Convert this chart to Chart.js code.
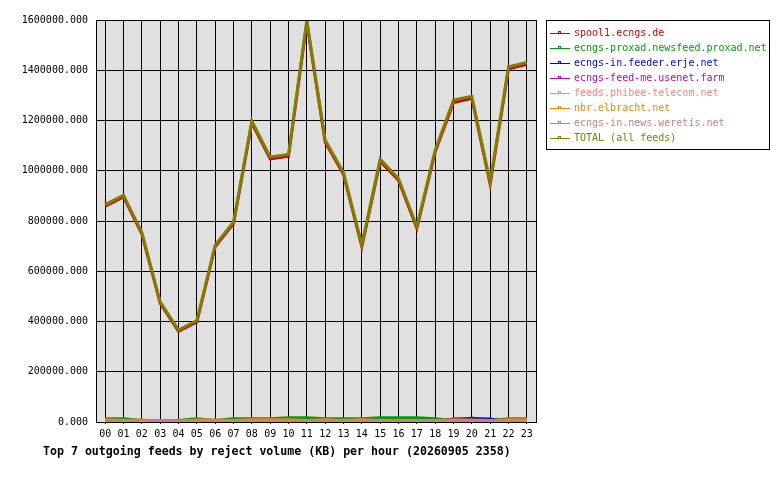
<!DOCTYPE html>
<html>
<head>
<meta charset="utf-8">
<script src="https://cdn.jsdelivr.net/npm/chart.js@4/dist/chart.umd.min.js"></script>
<style>
  body { margin: 0; background: #fff; }
  #wrap { width: 780px; height: 480px; }
</style>
</head>
<body>
<div id="wrap"><canvas id="feedChart" width="780" height="480"></canvas></div>
<script>
// hours of the day
const hours = ["00","01","02","03","04","05","06","07","08","09","10","11",
               "12","13","14","15","16","17","18","19","20","21","22","23"];

// reject volume (KB) per hour
const spool1 = [859000, 896000, 749000, 473000, 361000, 398000, 698000, 790000, 1191000, 1047000, 1058000, 1590000,
                1114000, 986000, 698000, 1038000, 962000, 771000, 1075000, 1272000, 1288000, 947000, 1406000, 1424000];
const proxad = [13000, 13000, 6000, 6000, 6000, 13000, 6000, 13000, 13000, 13000, 17000, 17000,
                13000, 13000, 13000, 17000, 17000, 17000, 13000, 6000, 16000, 6000, 13000, 13000];
const erje = [1000, 1000, 1000, 1000, 1000, 1000, 1000, 1000, 1000, 1000, 1000, 1000,
              1000, 1000, 1000, 1000, 1000, 1000, 1000, 12000, 13000, 12000, 1000, 1000];
const feedMe = [1000, 1000, 1000, 1000, 1000, 1000, 1000, 1000, 1000, 1000, 1000, 1000,
                1000, 1000, 1000, 1000, 1000, 1000, 1000, 1000, 1000, 1000, 1000, 1000];
const phibee = [2000, 2000, 2000, 2000, 2000, 2000, 2000, 2000, 2000, 2000, 2000, 2000,
                2000, 2000, 2000, 2000, 2000, 2000, 2000, 2000, 2000, 2000, 2000, 2000];
const elbracht = [9000, 6000, 8000, 3000, 3000, 8000, 8000, 6000, 9000, 9000, 9000, 6000,
                  9000, 6000, 9000, 6000, 6000, 6000, 6000, 9000, 8000, 6000, 9000, 9000];
const weretis = [5000, 5000, 5000, 5000, 5000, 5000, 5000, 5000, 5000, 5000, 5000, 5000,
                 5000, 5000, 5000, 5000, 5000, 5000, 5000, 5000, 5000, 5000, 5000, 5000];
const total = [865000, 902000, 755000, 478000, 366000, 404000, 704000, 796000, 1198000, 1055000, 1065000, 1598000,
               1122000, 993000, 705000, 1046000, 969000, 778000, 1082000, 1281000, 1296000, 955000, 1414000, 1431000];

const feedNames = ["spool1.ecngs.de", "ecngs-proxad.newsfeed.proxad.net", "ecngs-in.feeder.erje.net",
                   "ecngs-feed-me.usenet.farm", "feeds.phibee-telecom.net", "nbr.elbracht.net",
                   "ecngs-in.news.weretis.net", "TOTAL (all feeds)"];
const feedColors = ["#cc0000", "#00a000", "#0000e0", "#c000c0", "#ff8080", "#ff8000", "#c88080", "#808000"];
const feedValues = [spool1, proxad, erje, feedMe, phibee, elbracht, weretis, total];

const yTicks = [0, 200000, 400000, 600000, 800000, 1000000, 1200000, 1400000, 1600000];
const titleText = "Top 7 outgoing feeds by reject volume (KB) per hour (20260905 2358)";

const mono = "'DejaVu Sans Mono', 'Liberation Mono', monospace";

// gray plot background, right border, legend box and bottom title
const framePlugin = {
    id: "frame",
    beforeDraw(chart) {
        const { ctx, chartArea: a } = chart;
        ctx.save();
        ctx.fillStyle = "#e0e0e0";
        ctx.fillRect(a.left, a.top, a.right - a.left, a.bottom - a.top);
        ctx.restore();
    },
    afterDraw(chart) {
        const { ctx, chartArea: a } = chart;
        ctx.save();
        ctx.strokeStyle = "#000";
        ctx.lineWidth = 1;
        ctx.strokeRect(Math.round(a.left) + 0.5, Math.round(a.top) + 0.5,
                       Math.round(a.right - a.left), Math.round(a.bottom - a.top));

        // legend
        ctx.strokeRect(546.5, 20.5, 223, 129);
        ctx.font = "10px " + mono;
        ctx.textBaseline = "middle";
        chart.data.datasets.forEach((ds, i) => {
            const y = 33 + i * 15;
            ctx.strokeStyle = ds.borderColor;
            ctx.beginPath();
            ctx.moveTo(550, y + 0.5);
            ctx.lineTo(570, y + 0.5);
            ctx.stroke();
            ctx.strokeRect(558.5, y - 1.5, 2, 2);
            ctx.fillStyle = ds.borderColor;
            ctx.fillText(ds.label, 574, y);
        });

        // title under the x axis
        ctx.fillStyle = "#000";
        ctx.font = "bold 11.6px " + mono;
        ctx.textBaseline = "middle";
        ctx.fillText(titleText, 43, 452);
        ctx.restore();
    }
};

const datasets = feedNames.map((name, i) => ({
    label: name,
    data: feedValues[i],
    borderColor: feedColors[i],
    backgroundColor: feedColors[i],
    borderWidth: 3,
    pointRadius: 0,
    tension: 0,
    order: feedNames.length - i
}));

new Chart(document.getElementById("feedChart").getContext("2d"), {
    type: "line",
    data: { labels: hours, datasets: datasets },
    plugins: [framePlugin],
    options: {
        responsive: false,
        animation: false,
        layout: { padding: { top: 20, right: 244, left: 0, bottom: 0 } },
        plugins: {
            legend: { display: false },
            title: { display: false },
            tooltip: { enabled: false }
        },
        scales: {
            x: {
                offset: true,
                grid: { offset: false, color: "#000", lineWidth: 1, drawTicks: true, tickLength: 2, tickColor: "#000" },
                border: { color: "#000" },
                ticks: { color: "#000", font: { family: mono, size: 10 }, maxRotation: 0, autoSkip: false, padding: 4 },
                afterFit(scale) { scale.height = 58; }
            },
            y: {
                min: 0,
                max: 1600000,
                afterBuildTicks(scale) { scale.ticks = yTicks.map(v => ({ value: v })); },
                grid: { color: "#000", lineWidth: 1, drawTicks: false },
                border: { color: "#000" },
                ticks: {
                    color: "#000",
                    font: { family: mono, size: 10 },
                    padding: 8,
                    callback: v => Number(v).toFixed(3)
                },
                afterFit(scale) { scale.width = 96; }
            }
        }
    }
});
</script>
</body>
</html>
